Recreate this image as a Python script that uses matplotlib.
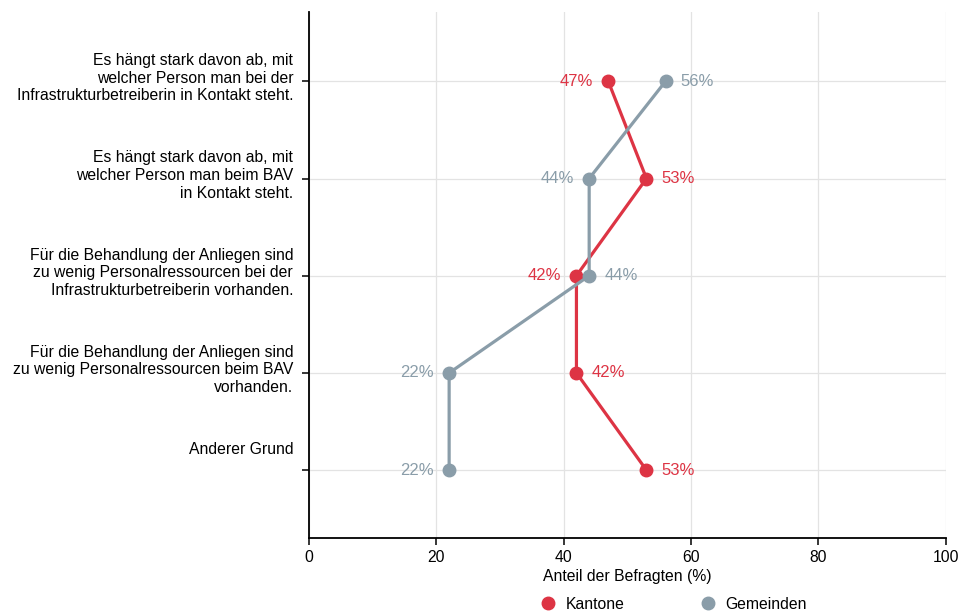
import numpy as np
import matplotlib
import matplotlib.pyplot as plt
import matplotlib.transforms as mtransforms

matplotlib.rcParams['font.family'] = ['Liberation Sans', 'DejaVu Sans']
matplotlib.rcParams['font.size'] = 11.3

categories = [
    "Es hängt stark davon ab, mit\nwelcher Person man bei der\nInfrastrukturbetreiberin in Kontakt steht.",
    "Es hängt stark davon ab, mit\nwelcher Person man beim BAV\nin Kontakt steht.",
    "Für die Behandlung der Anliegen sind\nzu wenig Personalressourcen bei der\nInfrastrukturbetreiberin vorhanden.",
    "Für die Behandlung der Anliegen sind\nzu wenig Personalressourcen beim BAV\nvorhanden.",
    "Anderer Grund",
]
kantone = [47, 53, 42, 42, 53]
gemeinden = [56, 44, 44, 22, 22]
series_names = ["Kantone", "Gemeinden"]

red = '#DD3444'
grey = '#8A9DA9'

fig = plt.figure(figsize=(9.6, 6.13), dpi=100)
ax = fig.add_axes([0.322, 0.122, 0.663, 0.858])

y = np.arange(len(categories))
ax.plot(kantone, y, color=red, lw=2.3, marker='o', ms=9, label=series_names[0], zorder=3)
ax.plot(gemeinden, y, color=grey, lw=2.3, marker='o', ms=9, label=series_names[1], zorder=3)

# value labels: the smaller of the two goes to the left
for i in range(len(categories)):
    for vals, other, col in [(kantone, gemeinden, red), (gemeinden, kantone, grey)]:
        v = vals[i]
        if v < other[i]:
            ax.annotate(f"{v}%", (v, i), xytext=(-11, 0), textcoords='offset points',
                        ha='right', va='center', color=col, fontsize=12)
        else:
            ax.annotate(f"{v}%", (v, i), xytext=(11, 0), textcoords='offset points',
                        ha='left', va='center', color=col, fontsize=12)

ax.set_xlim(0, 100)
ax.set_ylim(4.7, -0.71)
ax.set_xticks([0, 20, 40, 60, 80, 100])
ax.set_yticks(y)
ax.set_yticklabels([])
ax.grid(True, color='#e3e3e3', lw=0.9, zorder=0)
ax.set_axisbelow(True)
for s in ['top', 'right']:
    ax.spines[s].set_visible(False)
ax.spines['left'].set_linewidth(1.3)
ax.spines['bottom'].set_linewidth(1.3)
ax.tick_params(axis='both', length=5, width=1.1, labelsize=11.3, colors='black')
ax.set_xlabel("Anteil der Befragten (%)", fontsize=11.3, labelpad=3)

trans = mtransforms.blended_transform_factory(ax.transAxes, ax.transData)
for i, lab in enumerate(categories):
    ax.text(-0.025, i - 0.29, lab, transform=trans, ha='right', va='top',
            multialignment='right', fontsize=11.3, linespacing=1.22)

ax.legend(loc='upper center', bbox_to_anchor=(0.575, -0.09), ncol=2, frameon=False,
          handlelength=0.6, columnspacing=5.0, handletextpad=0.8, fontsize=11.3,
          borderpad=0.2)
leg = ax.get_legend()
for h in leg.legend_handles:
    h.set_linestyle('none')

fig.savefig('out.png', dpi=100)
